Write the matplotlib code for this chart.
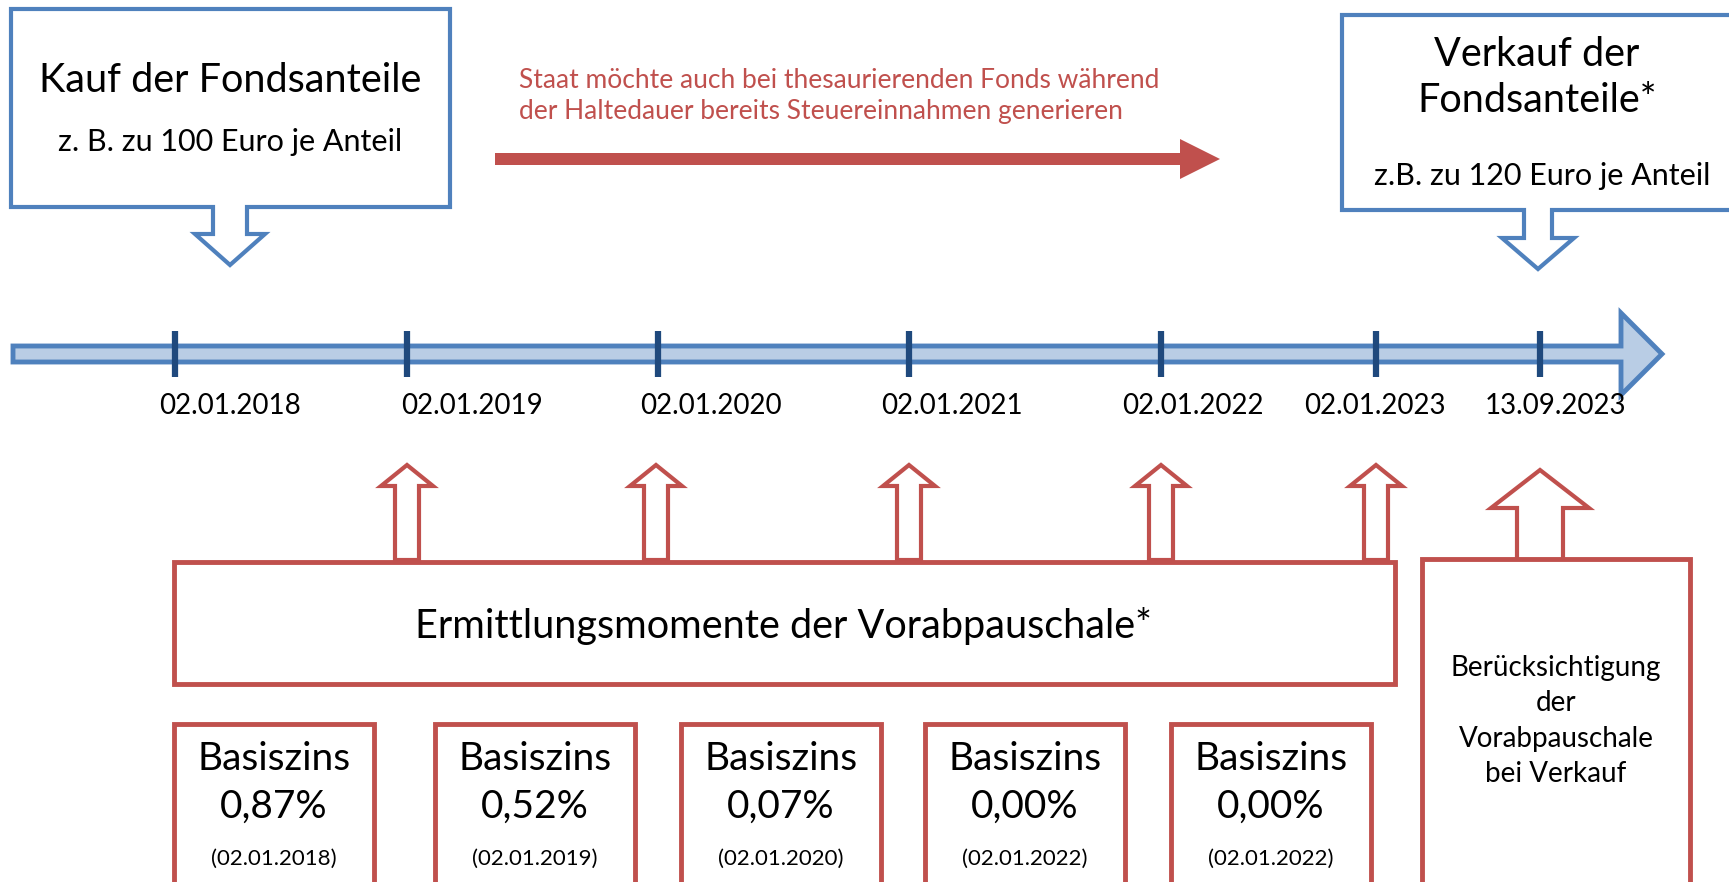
import matplotlib.pyplot as plt
from matplotlib.patches import Polygon, Rectangle

plt.rcParams['font.family'] = ['Lato', 'DejaVu Sans']

# text / data
kauf_title = "Kauf der Fondsanteile"
kauf_sub = "z. B. zu 100 Euro je Anteil"
verkauf_title = "Verkauf der\nFondsanteile*"
verkauf_sub = "z.B. zu 120 Euro je Anteil"
staat_text = ("Staat möchte auch bei thesaurierenden Fonds während\n"
              "der Haltedauer bereits Steuereinnahmen generieren")
timeline_labels = ["02.01.2018", "02.01.2019", "02.01.2020", "02.01.2021",
                   "02.01.2022", "02.01.2023", "13.09.2023"]
basiszins_values = ["0,87%", "0,52%", "0,07%", "0,00%", "0,00%"]
basiszins_dates = ["(02.01.2018)", "(02.01.2019)", "(02.01.2020)",
                   "(02.01.2022)", "(02.01.2022)"]
ermittlung_text = "Ermittlungsmomente der Vorabpauschale*"
verkauf_note = "Berücksichtigung\nder\nVorabpauschale\nbei Verkauf"

# layout (pixel coords, y downwards)
tick_x = [175, 407, 658, 909, 1161, 1376, 1540]
label_x = [230, 472, 711, 952, 1193, 1375, 1555]
up_arrow_x = [407, 656, 909, 1161, 1376]
box_left = [174, 435, 681, 925, 1171]
box_w = 200

BLUE = '#4f81bd'
LIGHT = '#b9cde5'
DARK = '#1f497d'
RED = '#c0504d'

fig = plt.figure(figsize=(17.29, 8.82), dpi=100)
ax = fig.add_axes([0, 0, 1, 1])
ax.set_xlim(0, 1729)
ax.set_ylim(882, 0)
ax.axis('off')


def callout(x0, x1, y0, y1, cx, sw, hw, hy, tip):
    pts = [(x0, y0), (x1, y0), (x1, y1), (cx + sw, y1), (cx + sw, hy),
           (cx + hw, hy), (cx, tip), (cx - hw, hy), (cx - sw, hy),
           (cx - sw, y1), (x0, y1)]
    ax.add_patch(Polygon(pts, closed=True, fc='white', ec=BLUE, lw=3,
                         joinstyle='miter'))


def up_arrow(cx, bottom, hy, tip, sw, hw):
    pts = [(cx - sw, bottom), (cx - sw, hy), (cx - hw, hy), (cx, tip),
           (cx + hw, hy), (cx + sw, hy), (cx + sw, bottom)]
    ax.add_patch(Polygon(pts, closed=True, fc='white', ec=RED, lw=3,
                         joinstyle='miter'))


# top callouts
callout(11, 450, 9, 207, 230, 17, 35, 234, 265)
ax.text(230, 80, kauf_title, ha='center', va='center', fontsize=28.5)
ax.text(230, 142, kauf_sub, ha='center', va='center', fontsize=22)

callout(1342, 1745, 15, 210, 1538, 14, 36, 238, 269)
ax.text(1537, 77, verkauf_title, ha='center', va='center', fontsize=28.5,
        linespacing=1.3)
ax.text(1542, 176, verkauf_sub, ha='center', va='center', fontsize=22)

# red arrow with text
ax.text(519, 96, staat_text, ha='left', va='center', fontsize=19,
        color=RED, linespacing=1.25)
ax.add_patch(Polygon([(495, 153), (1180, 153), (1180, 139), (1220, 159),
                      (1180, 179), (1180, 165), (495, 165)],
                     closed=True, fc=RED, ec='none'))

# timeline
ax.add_patch(Polygon([(13, 346), (1621, 346), (1621, 313), (1662, 354),
                      (1621, 395), (1621, 362), (13, 362)],
                     closed=True, fc=LIGHT, ec=BLUE, lw=3.5,
                     joinstyle='miter'))
for x in tick_x:
    ax.plot([x, x], [331, 377], color=DARK, lw=4.5, solid_capstyle='butt')
for x, lab in zip(label_x, timeline_labels):
    ax.text(x, 406, lab, ha='center', va='center', fontsize=20)

# up arrows
for x in up_arrow_x:
    up_arrow(x, 560, 486, 465, 12, 26)
up_arrow(1540, 560, 508, 470, 23, 49)

# boxes
ax.add_patch(Rectangle((174, 562), 1221, 122, fc='white', ec=RED, lw=3.5))
ax.text(783, 626, ermittlung_text, ha='center', va='center', fontsize=28.5)

ax.add_patch(Rectangle((1422, 559), 268, 340, fc='white', ec=RED, lw=3.5))
ax.text(1556, 721, verkauf_note, ha='center', va='center', fontsize=20,
        linespacing=1.45)

for x0, val, d in zip(box_left, basiszins_values, basiszins_dates):
    ax.add_patch(Rectangle((x0, 724), box_w, 180, fc='white', ec=RED,
                           lw=3.5))
    cx = x0 + box_w / 2
    ax.text(cx, 759, "Basiszins", ha='center', va='center', fontsize=28)
    ax.text(cx, 807, val, ha='center', va='center', fontsize=28)
    ax.text(cx, 859, d, ha='center', va='center', fontsize=16)

fig.savefig('out.png', dpi=100)
